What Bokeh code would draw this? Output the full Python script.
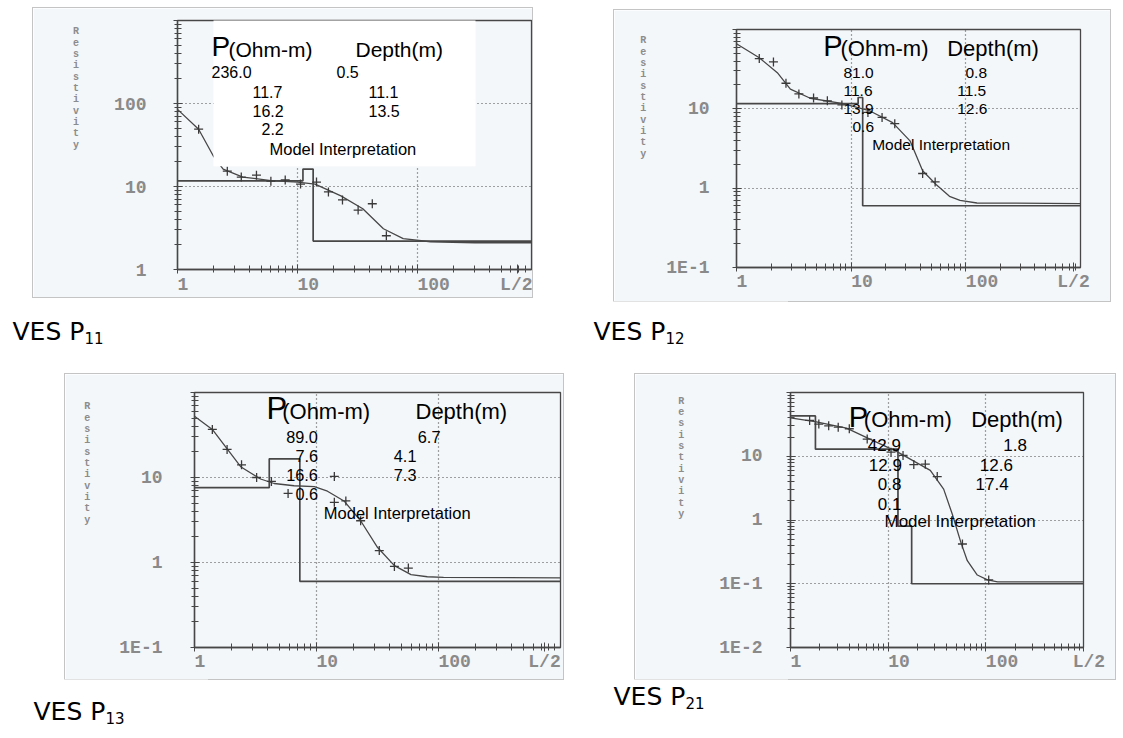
import math
from bokeh.plotting import figure
from bokeh.layouts import column, row
from bokeh.models import Range1d, FixedTicker, Label, BoxAnnotation, Spacer
from bokeh.embed import file_html
from bokeh.resources import INLINE

# ---------------- shared labels ----------------
x_tick_values = [1, 10, 100]
x_tick_labels = ["1", "10", "100"]
x_end_label = "L/2"
y_axis_title = "Resistivity"
header_symbol = "P"
header_rho = "(Ohm-m)"
header_depth = "Depth(m)"
model_title = "Model Interpretation"
caption_main = "VES P"
caption_subs = ["11", "12", "13", "21"]

# ---------------- VES P11 ----------------
p11_field_x = [1.5, 2.6, 3.4, 4.55, 6.0, 7.9, 10.6, 14.4, 18.1, 23.7, 32, 42, 55]
p11_field_y = [49, 15.3, 13.0, 13.7, 11.6, 12.0, 10.7, 11.3, 8.6, 6.9, 5.2, 6.2, 2.55]
p11_curve_x = [1.0, 1.5, 2.0, 2.4, 3.5, 6.0, 10, 14, 23, 35, 52, 76, 128, 300, 900]
p11_curve_y = [85, 49, 23, 16.2, 13.0, 11.8, 11.3, 10.7, 7.7, 5.4, 3.1, 2.35, 2.16, 2.1, 2.1]
p11_rho = [236.0, 11.7, 16.2, 2.2]
p11_depth = [0.5, 11.1, 13.5]
p11_depth_text = ["0.5", "11.1", "13.5"]
p11_y_ticks = [1, 10, 100, 1000]
p11_y_labels = ["1", "10", "100", ""]

# ---------------- VES P12 ----------------
p12_field_x = [1.58, 2.1, 2.7, 3.5, 4.7, 6.2, 8.3, 14, 18.6, 24, 42, 54]
p12_field_y = [43, 39, 21, 15.4, 13.7, 12.6, 11.2, 9.0, 7.8, 6.5, 1.53, 1.2]
p12_curve_x = [1.0, 1.58, 2.27, 2.95, 4.4, 8.5, 14.6, 23, 32.6, 42, 55, 72, 89, 125, 1000]
p12_curve_y = [66, 44, 28.6, 17.7, 13.6, 11.6, 9.4, 6.7, 3.95, 1.66, 1.11, 0.79, 0.70, 0.65, 0.64]
p12_rho = [81.0, 11.6, 13.9, 0.6]
p12_depth = [0.8, 11.5, 12.6]
p12_depth_text = ["0.8", "11.5", "12.6"]
p12_y_ticks = [0.1, 1, 10, 100]
p12_y_labels = ["1E-1", "1", "10", ""]

# ---------------- VES P13 ----------------
p13_field_x = [1.4, 1.85, 2.43, 3.23, 4.27, 5.85, 14, 14, 17.4, 23, 32.7, 43.5, 56.6]
p13_field_y = [36.8, 21.4, 14.1, 10.0, 9.0, 6.5, 10.3, 5.1, 5.3, 3.1, 1.38, 0.90, 0.86]
p13_curve_x = [1.0, 1.4, 2.39, 3.48, 4.5, 6.55, 9.6, 12.3, 16.8, 23, 31.7, 43.5, 59.5, 81, 110, 1000]
p13_curve_y = [52.6, 36.8, 13.4, 9.6, 8.5, 8.0, 7.8, 6.9, 5.3, 3.1, 1.5, 0.92, 0.72, 0.68, 0.67, 0.66]
p13_rho = [89.0, 7.6, 16.6, 0.6]
p13_depth = [0.67, 4.1, 7.3]
p13_depth_text = ["6.7", "4.1", "7.3"]
p13_y_ticks = [0.1, 1, 10, 100]
p13_y_labels = ["1E-1", "1", "10", ""]

# ---------------- VES P21 ----------------
p21_field_x = [1.57, 1.95, 2.46, 3.08, 4.0, 6.1, 10.7, 14.2, 18.3, 24, 31.8, 57.6, 107]
p21_field_y = [36.5, 32, 30, 28.6, 27, 18.6, 11.6, 10.3, 7.4, 7.5, 4.8, 0.42, 0.115]
p21_curve_x = [1.0, 1.84, 3.75, 6.5, 12.3, 18.3, 27, 37, 45.3, 55.4, 64.6, 81.8, 104, 132, 1000]
p21_curve_y = [40, 34.5, 27.7, 18.6, 11.8, 8.4, 6.0, 3.05, 1.24, 0.45, 0.23, 0.137, 0.115, 0.107, 0.107]
p21_rho = [42.9, 12.9, 0.8, 0.1]
p21_depth = [1.8, 12.6, 17.4]
p21_depth_text = ["1.8", "12.6", "17.4"]
p21_y_ticks = [0.01, 0.1, 1, 10, 100]
p21_y_labels = ["1E-2", "1E-1", "1", "10", ""]

# ---------------- styling / layout (page pixel positions) ----------------
INK = "#474747"
SCAN = "#f4f7fa"
TICKLAB = "#8a8a8a"
TXT_FONT = "Liberation Sans"
MONO = "Liberation Mono"
BASE_SHIFT = 0.34   # empirical: rendered baseline sits ~0.34*size below the anchor

panels = [
    dict(box=(33, 8, 499, 289), frame=(177, 20, 531, 271), xr=(1, 891), yr=(1, 1000), yexp=(0, 3),
         y_ticks=p11_y_ticks, y_labels=p11_y_labels, fx=p11_field_x, fy=p11_field_y,
         cx=p11_curve_x, cy=p11_curve_y, rho=p11_rho, bounds=p11_depth, dtext=p11_depth_text,
         ystand=27, xstand=1, axstand=32, respad=10, lab=(517, ""),
         sym=(211, 56, 28), hrho=(228, 56, 21), hdep=(355, 56, 21), vsize=16,
         rpos=[(211, 77.7), (252, 98), (252, 117), (261, 135)],
         dpos=[(336, 77.7), (368, 98), (368, 117)],
         model=(269, 155.6, 16.5),
         white=(213, 475, 167, 10)),
    dict(box=(614, 10, 496, 291), frame=(736, 29, 1080, 267), xr=(1, 1000), yr=(0.1, 100), yexp=(-1, 2),
         y_ticks=p12_y_ticks, y_labels=p12_y_labels, fx=p12_field_x, fy=p12_field_y,
         cx=p12_curve_x, cy=p12_curve_y, rho=p12_rho, bounds=p12_depth, dtext=p12_depth_text,
         ystand=23, xstand=0, axstand=17, respad=9, lab=(1073, ""),
         sym=(822.7, 55, 29), hrho=(840, 55, 22), hdep=(946.7, 55, 22), vsize=15.5,
         rpos=[(843, 77.7), (843, 96), (843, 114), (852, 131.7)],
         dpos=[(965, 77.7), (956.7, 96), (956.7, 114)],
         model=(871.7, 149, 15.5), white=None),
    dict(box=(65, 374, 498, 305), frame=(194, 392, 560, 647), xr=(1, 1000), yr=(0.1, 100), yexp=(-1, 2),
         y_ticks=p13_y_ticks, y_labels=p13_y_labels, fx=p13_field_x, fy=p13_field_y,
         cx=p13_curve_x, cy=p13_curve_y, rho=p13_rho, bounds=p13_depth, dtext=p13_depth_text,
         ystand=28, xstand=0, axstand=26, respad=10, lab=(544, ""),
         sym=(266, 418.3, 31), hrho=(281.7, 418.3, 22), hdep=(415, 418.3, 22), vsize=16.3,
         rpos=[(285.7, 441.7), (295, 460.7), (285.7, 480), (295, 499)],
         dpos=[(417.3, 441.7), (393.3, 460.7), (393.3, 480)],
         model=(323.3, 518.3, 16.5), white=None),
    dict(box=(635, 374, 480, 305), frame=(790, 381, 1083, 652), xr=(1, 1000), yr=(0.01, 100), yexp=(-2, 2),
         y_ticks=p21_y_ticks, y_labels=p21_y_labels, fx=p21_field_x, fy=p21_field_y,
         cx=p21_curve_x, cy=p21_curve_y, rho=p21_rho, bounds=p21_depth, dtext=p21_depth_text,
         ystand=24, xstand=0, axstand=32, respad=11, lab=(1083, "\u00a0"),
         sym=(848.3, 416.7, 29), hrho=(863.3, 416.7, 22), hdep=(970.7, 416.7, 22), vsize=17,
         rpos=[(867.3, 442.3), (868.3, 463.3), (877.3, 484), (877.3, 505)],
         dpos=[(1002.7, 442.3), (979.3, 463.3), (975, 484)],
         model=(884, 524, 17), white=None),
]


def minor_between(e0, e1):
    return [m * 10.0 ** e for e in range(e0, e1) for m in range(2, 10)]


def step_xy(bounds, rho, x_lo, x_hi):
    xs, ys = [x_lo], [rho[0]]
    for d, r0, r1 in zip(bounds, rho[:-1], rho[1:]):
        xs += [d, d]
        ys += [r0, r1]
    xs.append(x_hi)
    ys.append(rho[-1])
    return xs, ys


def make_panel(P):
    bx, by, bw, bh = P["box"]
    fl, ft, fr, fb = P["frame"]
    lx0, lx1 = math.log10(P["xr"][0]), math.log10(P["xr"][1])
    ly0, ly1 = math.log10(P["yr"][0]), math.log10(P["yr"][1])

    def gx(px):
        return 10 ** (lx0 + (px - fl) / (fr - fl) * (lx1 - lx0))

    def gy(py):
        return 10 ** (ly0 + (fb - py) / (fb - ft) * (ly1 - ly0))

    p = figure(width=bw, height=bh, x_axis_type="log", y_axis_type="log",
               x_range=Range1d(*P["xr"]), y_range=Range1d(*P["yr"]),
               toolbar_location=None, output_backend="svg",
               min_border_left=fl - bx, min_border_right=bx + bw - fr,
               min_border_top=ft - by, min_border_bottom=by + bh - fb)
    p.background_fill_color = SCAN
    p.border_fill_color = SCAN
    p.outline_line_color = INK
    p.outline_line_width = 1.3
    p.styles = {"box-shadow": "0 0 0 1px #c4c4c4"}

    # axis ticks: decades plus the "L/2" end label
    lab_x, lab_pad = P["lab"]
    lab_val = min(gx(lab_x), P["xr"][1])
    xt_axis = FixedTicker(ticks=x_tick_values + [lab_val], minor_ticks=minor_between(0, 3))
    xt_grid = FixedTicker(ticks=x_tick_values, minor_ticks=[])
    yt = FixedTicker(ticks=P["y_ticks"], minor_ticks=minor_between(*P["yexp"]))
    p.xaxis.ticker = xt_axis
    p.yaxis.ticker = yt
    p.xgrid.ticker = xt_grid
    p.ygrid.ticker = yt
    for g in (p.xgrid, p.ygrid):
        g.grid_line_color = INK
        g.grid_line_dash = "1 3"
        g.grid_line_width = 1.2

    xo = {float(v): "\u00a0" * len(s) + s for v, s in zip(x_tick_values, x_tick_labels)}
    xo[float(lab_val)] = lab_pad + x_end_label
    p.xaxis.major_label_overrides = xo
    p.yaxis.major_label_overrides = {float(v): s for v, s in zip(P["y_ticks"], P["y_labels"])}
    p.axis.axis_line_color = INK
    p.axis.axis_line_width = 1.4
    p.axis.major_tick_line_color = INK
    p.axis.minor_tick_line_color = INK
    p.axis.major_tick_in = 5
    p.axis.major_tick_out = 4
    p.axis.minor_tick_in = 4
    p.axis.minor_tick_out = 3
    p.axis.major_label_text_font = MONO
    p.axis.major_label_text_font_size = "18px"
    p.axis.major_label_text_font_style = "bold"
    p.axis.major_label_text_color = TICKLAB
    p.xaxis.major_label_standoff = P["xstand"]
    p.yaxis.major_label_standoff = P["ystand"]

    # stacked "Resistivity" title on the left
    try:
        p.yaxis.axis_label_orientation = "horizontal"
        p.yaxis.axis_label = "\n".join(list(y_axis_title) + ["\u00a0"] * P["respad"])
    except Exception:
        p.yaxis.axis_label = y_axis_title
    p.yaxis.axis_label_text_font = MONO
    p.yaxis.axis_label_text_font_size = "10px"
    p.yaxis.axis_label_text_font_style = "bold"
    p.yaxis.axis_label_text_color = "#8c8c8c"
    p.yaxis.axis_label_text_line_height = 1.03
    p.yaxis.axis_label_standoff = P["axstand"]

    mx, my = step_xy(P["bounds"], P["rho"], 0.3, 3000)
    p.line(mx, my, line_color=INK, line_width=1.7)
    p.line(P["cx"], P["cy"], line_color=INK, line_width=1.3)
    p.scatter(P["fx"], P["fy"], marker="cross", size=9, line_color="#3a3a3a", line_width=1.3)

    if P["white"] is not None:
        l, r, b, t = P["white"]
        p.add_layout(BoxAnnotation(left=gx(l), right=gx(r), bottom=gy(b), top=gy(t),
                                   fill_color="white", fill_alpha=1.0, line_color=None))

    def txt(px, py, text, size):
        p.add_layout(Label(x=gx(px), y=gy(py - BASE_SHIFT * size), text=text, text_font=TXT_FONT,
                           text_font_size=f"{size}px", text_color="black", text_align="left",
                           text_baseline="alphabetic"))

    sx, sy, ss = P["sym"]
    txt(sx, sy, header_symbol, ss)
    hx, hy, hs = P["hrho"]
    txt(hx, hy, header_rho, hs)
    dx, dy, ds = P["hdep"]
    txt(dx, dy, header_depth, ds)
    for (px, py), v in zip(P["rpos"], P["rho"]):
        txt(px, py, f"{v:.1f}", P["vsize"])
    for (px, py), s in zip(P["dpos"], P["dtext"]):
        txt(px, py, s, P["vsize"])
    mx_, my_, ms = P["model"]
    txt(mx_, my_, model_title, ms)
    return p


def caption_fig(w, h, left, baseline, sub):
    c = figure(width=w, height=h, x_range=Range1d(0, w), y_range=Range1d(0, h),
               toolbar_location=None, output_backend="svg", min_border=0, title=None,
               x_axis_location=None, y_axis_location=None)
    c.xgrid.visible = False
    c.ygrid.visible = False
    c.outline_line_color = None
    c.background_fill_color = "white"
    c.border_fill_color = "white"
    c.add_layout(Label(x=left, y=h - (baseline - BASE_SHIFT * 25), text=caption_main,
                       text_font="DejaVu Sans", text_font_size="25px", text_color="black",
                       text_baseline="alphabetic"))
    c.add_layout(Label(x=left + 72, y=h - (baseline + 4 - BASE_SHIFT * 15), text=sub,
                       text_font="DejaVu Sans", text_font_size="15px", text_color="black",
                       text_baseline="alphabetic"))
    return c


p1, p2, p3, p4 = [make_panel(P) for P in panels]

# caption figures: (left offset, baseline from figure top)
c1 = caption_fig(200, 50, 4, 38, caption_subs[0])
c2 = caption_fig(200, 50, 5, 38, caption_subs[1])
c3 = caption_fig(200, 50, 25, 40, caption_subs[2])
c4 = caption_fig(200, 50, 25, 25, caption_subs[3])

body = column(
    row(Spacer(width=25, height=293), p1, Spacer(width=82, height=293),
        column(Spacer(width=496, height=2), p2)),
    row(c1, Spacer(width=380, height=50), c2),
    Spacer(width=10, height=23),
    row(Spacer(width=57, height=305), p3, Spacer(width=72, height=305), p4),
    row(c3, Spacer(width=380, height=50), c4),
)
layout = column(Spacer(width=10, height=8), row(Spacer(width=8, height=10), body))

open("out.html", "w").write(file_html(layout, INLINE))
